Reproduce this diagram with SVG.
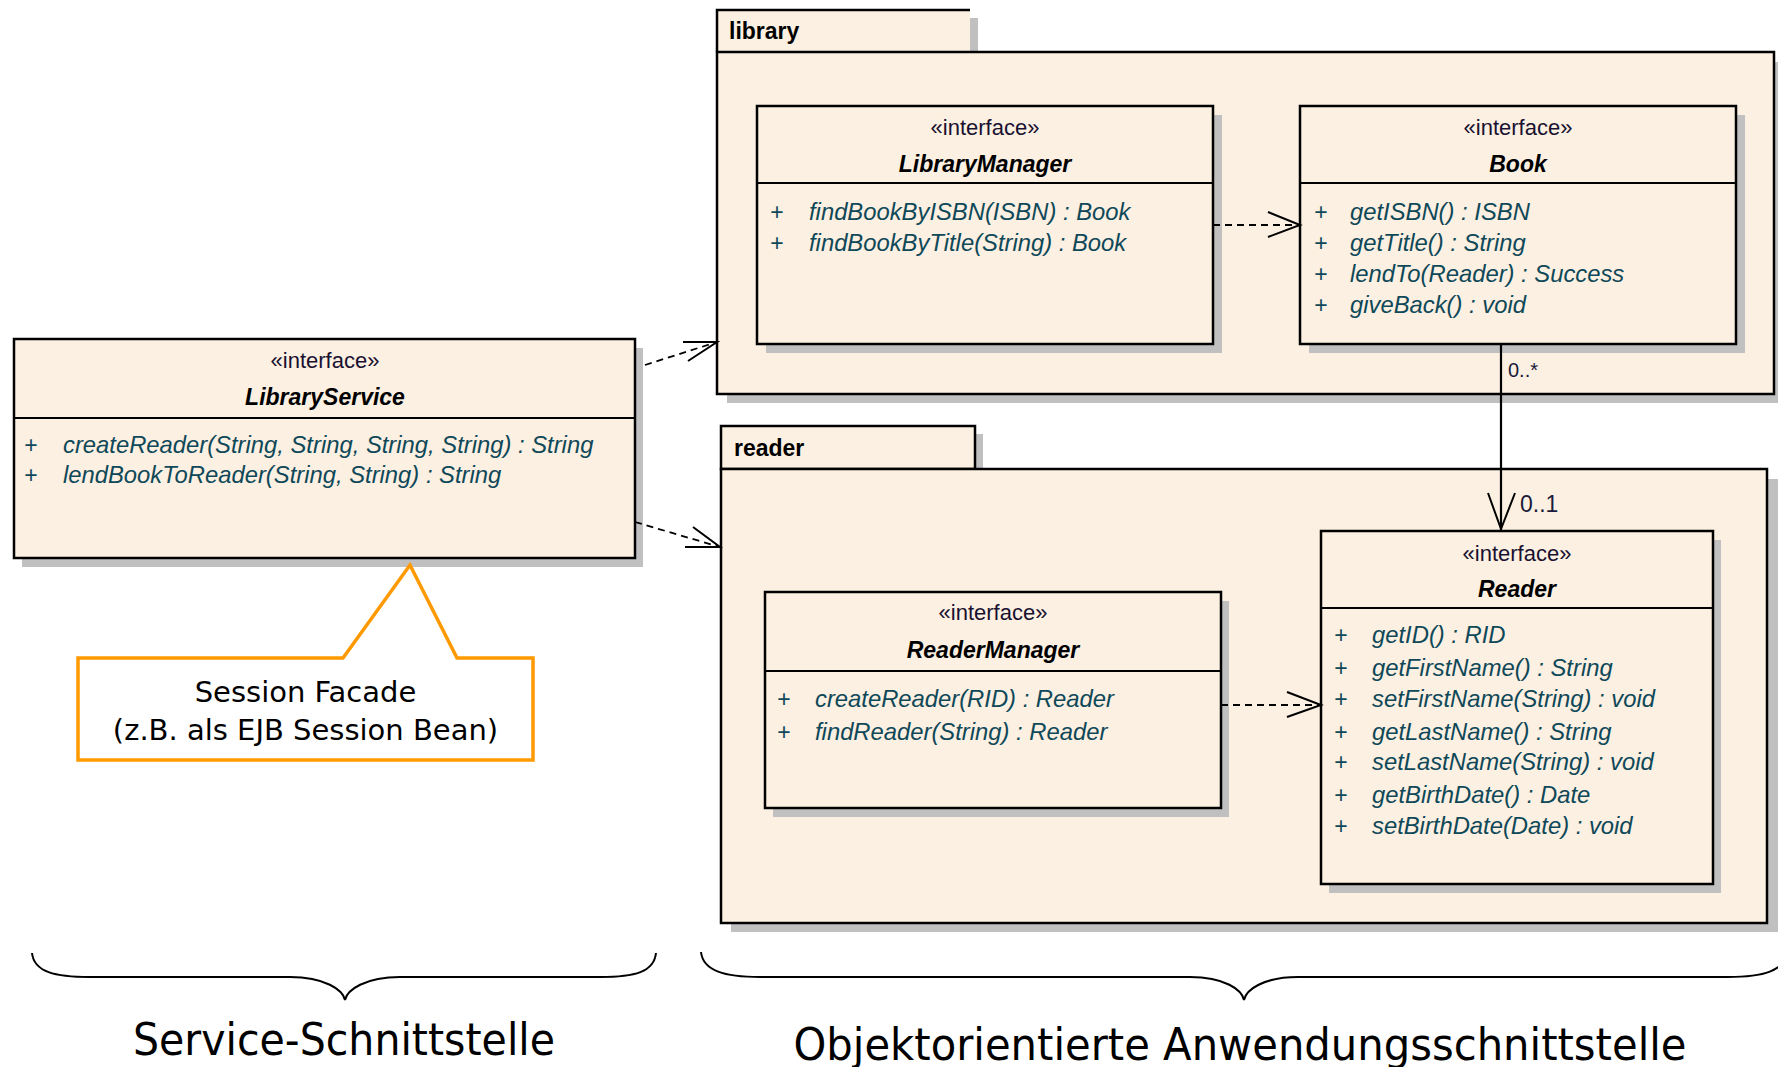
<svg xmlns="http://www.w3.org/2000/svg" width="1778" height="1067" viewBox="0 0 1778 1067">
<style>
  .fill{fill:#FBF0E2}
  .shadow{fill:#C0C0C0}
  .box{fill:#FBF0E2;stroke:#000;stroke-width:2.5}
  .div{stroke:#000;stroke-width:2}
  .ster{font-family:"Liberation Sans",Arial,sans-serif;font-size:22px;fill:#1a1030;text-anchor:middle}
  .name{font-family:"Liberation Sans",Arial,sans-serif;font-size:23px;font-weight:bold;font-style:italic;fill:#000;text-anchor:middle}
  .meth{font-family:"Liberation Sans",Arial,sans-serif;font-size:23.8px;font-style:italic;fill:#0f4858}
  .plus{font-family:"Liberation Sans",Arial,sans-serif;font-size:23px;fill:#0f4858;text-anchor:middle}
  .pkg{font-family:"Liberation Sans",Arial,sans-serif;font-size:23px;font-weight:bold;fill:#000}
  .mult{font-family:"Liberation Sans",Arial,sans-serif;fill:#1a1a3a}
  .dep{fill:none;stroke:#000;stroke-width:1.8;stroke-dasharray:7 5}
  .head{fill:none;stroke:#000;stroke-width:2}
  .brace{fill:none;stroke:#000;stroke-width:2}
  .big{font-family:"DejaVu Sans",Verdana,sans-serif;font-size:44px;fill:#000;text-anchor:middle}
  .note{font-family:"DejaVu Sans",Verdana,sans-serif;font-size:29px;fill:#000;text-anchor:middle}
</style>
<rect width="1778" height="1067" fill="#fff"/>

<g id="pkg-library">
  <rect class="shadow" x="725" y="18" width="253" height="42"/>
  <rect class="shadow" x="727" y="62" width="1060" height="341"/>
  <rect class="fill" x="717" y="10" width="253" height="42"/>
  <path d="M717,52 L717,10 L970,10" fill="none" stroke="#000" stroke-width="2.5"/>
  <rect class="box" x="717" y="52" width="1057" height="342"/>
  <text class="pkg" x="729" y="39">library</text>
</g>

<g id="pkg-reader">
  <rect class="shadow" x="729" y="434" width="254" height="42"/>
  <rect class="shadow" x="731" y="479" width="1056" height="453"/>
  <rect class="box" x="721" y="426" width="254" height="43"/>
  <rect class="box" x="721" y="469" width="1046" height="454"/>
  <text class="pkg" x="734" y="456">reader</text>
</g>

<g id="LibraryManager">
  <rect class="shadow" x="766" y="115" width="456" height="238"/>
  <rect class="box" x="757" y="106" width="456" height="238"/>
  <line class="div" x1="757" y1="183" x2="1213" y2="183"/>
  <text class="ster" x="985" y="135">«interface»</text>
  <text class="name" x="985" y="172">LibraryManager</text>
  <text class="plus" x="777" y="220">+</text><text class="meth" x="809" y="220">findBookByISBN(ISBN) : Book</text>
  <text class="plus" x="777" y="251">+</text><text class="meth" x="809" y="251">findBookByTitle(String) : Book</text>
</g>

<g id="Book">
  <rect class="shadow" x="1309" y="115" width="436" height="238"/>
  <rect class="box" x="1300" y="106" width="436" height="238"/>
  <line class="div" x1="1300" y1="183" x2="1736" y2="183"/>
  <text class="ster" x="1518" y="135">«interface»</text>
  <text class="name" x="1518" y="172">Book</text>
  <text class="plus" x="1321" y="220">+</text><text class="meth" x="1350" y="220">getISBN() : ISBN</text>
  <text class="plus" x="1321" y="251">+</text><text class="meth" x="1350" y="251">getTitle() : String</text>
  <text class="plus" x="1321" y="282">+</text><text class="meth" x="1350" y="282">lendTo(Reader) : Success</text>
  <text class="plus" x="1321" y="313">+</text><text class="meth" x="1350" y="313">giveBack() : void</text>
</g>

<g id="LibraryService">
  <rect class="shadow" x="22" y="348" width="621" height="219"/>
  <rect class="box" x="14" y="339" width="621" height="219"/>
  <line class="div" x1="14" y1="418" x2="635" y2="418"/>
  <text class="ster" x="325" y="368">«interface»</text>
  <text class="name" x="325" y="405">LibraryService</text>
  <text class="plus" x="31" y="453">+</text><text class="meth" x="63" y="453">createReader(String, String, String, String) : String</text>
  <text class="plus" x="31" y="483">+</text><text class="meth" x="63" y="483">lendBookToReader(String, String) : String</text>
</g>

<g id="ReaderManager">
  <rect class="shadow" x="773" y="601" width="456" height="216"/>
  <rect class="box" x="765" y="592" width="456" height="216"/>
  <line class="div" x1="765" y1="671" x2="1221" y2="671"/>
  <text class="ster" x="993" y="620">«interface»</text>
  <text class="name" x="993" y="658">ReaderManager</text>
  <text class="plus" x="784" y="707">+</text><text class="meth" x="815" y="707">createReader(RID) : Reader</text>
  <text class="plus" x="784" y="740">+</text><text class="meth" x="815" y="740">findReader(String) : Reader</text>
</g>

<g id="Reader">
  <rect class="shadow" x="1329" y="540" width="392" height="353"/>
  <rect class="box" x="1321" y="531" width="392" height="353"/>
  <line class="div" x1="1321" y1="608" x2="1713" y2="608"/>
  <text class="ster" x="1517" y="561">«interface»</text>
  <text class="name" x="1517" y="597">Reader</text>
  <text class="plus" x="1341" y="643">+</text><text class="meth" x="1372" y="643">getID() : RID</text>
  <text class="plus" x="1341" y="676">+</text><text class="meth" x="1372" y="676">getFirstName() : String</text>
  <text class="plus" x="1341" y="707">+</text><text class="meth" x="1372" y="707">setFirstName(String) : void</text>
  <text class="plus" x="1341" y="740">+</text><text class="meth" x="1372" y="740">getLastName() : String</text>
  <text class="plus" x="1341" y="770">+</text><text class="meth" x="1372" y="770">setLastName(String) : void</text>
  <text class="plus" x="1341" y="803">+</text><text class="meth" x="1372" y="803">getBirthDate() : Date</text>
  <text class="plus" x="1341" y="834">+</text><text class="meth" x="1372" y="834">setBirthDate(Date) : void</text>
</g>

<g id="note-session-facade">
  <polygon points="78,658 343,658 410,565 457,658 533,658 533,760 78,760" fill="#fff" stroke="#FF9900" stroke-width="3.5"/>
  <text class="note" x="305.5" y="702">Session Facade</text>
  <text class="note" x="305.5" y="740">(z.B. als EJB Session Bean)</text>
</g>

<g id="connectors">
  <path class="dep" d="M645,365 L717,342"/>
  <polyline class="head" points="683,342 717,342 688,361"/>
  <path class="dep" d="M635,522 L720,547"/>
  <polyline class="head" points="693,527 720,547 685,547"/>
  <path class="dep" d="M1213,225 L1300,225"/>
  <polyline class="head" points="1268,212 1300,225 1268,237"/>
  <path class="dep" d="M1221,705 L1321,705"/>
  <polyline class="head" points="1287,692 1321,705 1287,717"/>
  <line x1="1501" y1="344" x2="1501" y2="530" stroke="#000" stroke-width="2.2"/>
  <polyline class="head" points="1488,493 1501,529 1515,493"/>
  <text class="mult" x="1508" y="377" font-size="20">0..*</text>
  <text class="mult" x="1520" y="512" font-size="23">0..1</text>
</g>

<g id="braces">
  <path class="brace" d="M32,953 C34,972 55,977 90,977 L290,977 C325,977 343,990 345,1000 C347,990 365,977 400,977 L600,977 C635,977 654,972 656,953"/>
  <path class="brace" d="M701,952 C703,971 725,977 760,977 L1190,977 C1225,977 1242,990 1244,1000 C1246,990 1263,977 1298,977 L1728,977 C1763,977 1785,971 1787,952"/>
  <text class="big" x="344" y="1055" textLength="422" lengthAdjust="spacingAndGlyphs">Service-Schnittstelle</text>
  <text class="big" x="1240" y="1060" textLength="893" lengthAdjust="spacingAndGlyphs">Objektorientierte Anwendungsschnittstelle</text>
</g>
</svg>
